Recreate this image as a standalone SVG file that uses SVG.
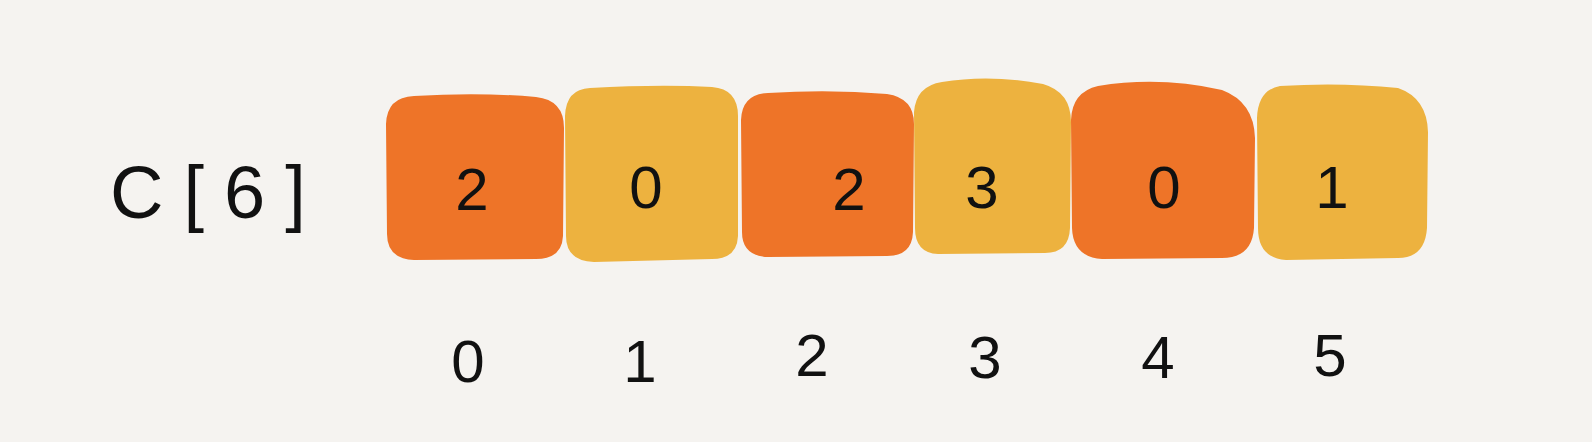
<svg xmlns="http://www.w3.org/2000/svg" width="1592" height="442" viewBox="0 0 1592 442">
  <style>
    .bg { fill: #F5F3F0; }
    .org { fill: #EE7428; }
    .yel { fill: #EDB23F; }
    .val { font-family: "Liberation Sans", "DejaVu Sans", sans-serif; font-size: 60px; fill: #111; text-anchor: middle; }
    .idx { font-family: "Liberation Sans", "DejaVu Sans", sans-serif; font-size: 60px; fill: #111; text-anchor: middle; }
    .name { font-family: "Liberation Sans", "DejaVu Sans", sans-serif; font-size: 74px; fill: #111; letter-spacing: 20px; }
  </style>
  <rect class="bg" x="0" y="0" width="1592" height="442"/>
  <g id="label">
    <text class="name" x="110" y="218">C[6]</text>
  </g>
  <g id="cell0">
    <path class="org" d="M414,96 Q480,92 536,97 Q564,100 564,128 L563,236 Q562,259 536,259 L414,260 Q387,259 387,234 L386,124 Q387,97 414,96 Z"/>
    <text class="val" x="472" y="210">2</text>
  </g>
  <g id="cell1">
    <path class="yel" d="M590,88 Q660,84 712,87 Q738,89 738,116 L738,236 Q737,259 712,259 L594,262 Q566,261 566,236 L565,116 Q566,89 590,88 Z"/>
    <text class="val" x="646" y="208">0</text>
  </g>
  <g id="cell2">
    <path class="org" d="M768,93 Q830,89 887,94 Q914,98 914,124 L913,232 Q912,256 887,256 L768,257 Q742,256 742,232 L741,120 Q742,94 768,93 Z"/>
    <text class="val" x="849" y="210">2</text>
  </g>
  <g id="cell3">
    <path class="yel" d="M942,82 Q990,74 1043,84 Q1071,92 1071,122 L1070,228 Q1069,253 1045,253 L938,254 Q915,253 915,228 L914,112 Q916,86 942,82 Z"/>
    <text class="val" x="982" y="208">3</text>
  </g>
  <g id="cell4">
    <path class="org" d="M1098,86 Q1160,76 1222,90 Q1254,102 1255,138 L1254,228 Q1252,258 1222,258 L1102,259 Q1073,257 1072,228 L1071,120 Q1072,92 1098,86 Z"/>
    <text class="val" x="1164" y="208">0</text>
  </g>
  <g id="cell5">
    <path class="yel" d="M1280,86 Q1340,82 1398,88 Q1427,98 1428,132 L1427,228 Q1425,258 1398,258 L1286,260 Q1258,258 1258,228 L1257,118 Q1258,90 1280,86 Z"/>
    <text class="val" x="1332" y="208">1</text>
  </g>
  <g id="indices">
    <text class="idx" x="468" y="382">0</text>
    <text class="idx" x="640" y="382">1</text>
    <text class="idx" x="812" y="376">2</text>
    <text class="idx" x="985" y="378">3</text>
    <text class="idx" x="1158" y="378">4</text>
    <text class="idx" x="1330" y="376">5</text>
  </g>
  <g id="connectors"/>
</svg>
